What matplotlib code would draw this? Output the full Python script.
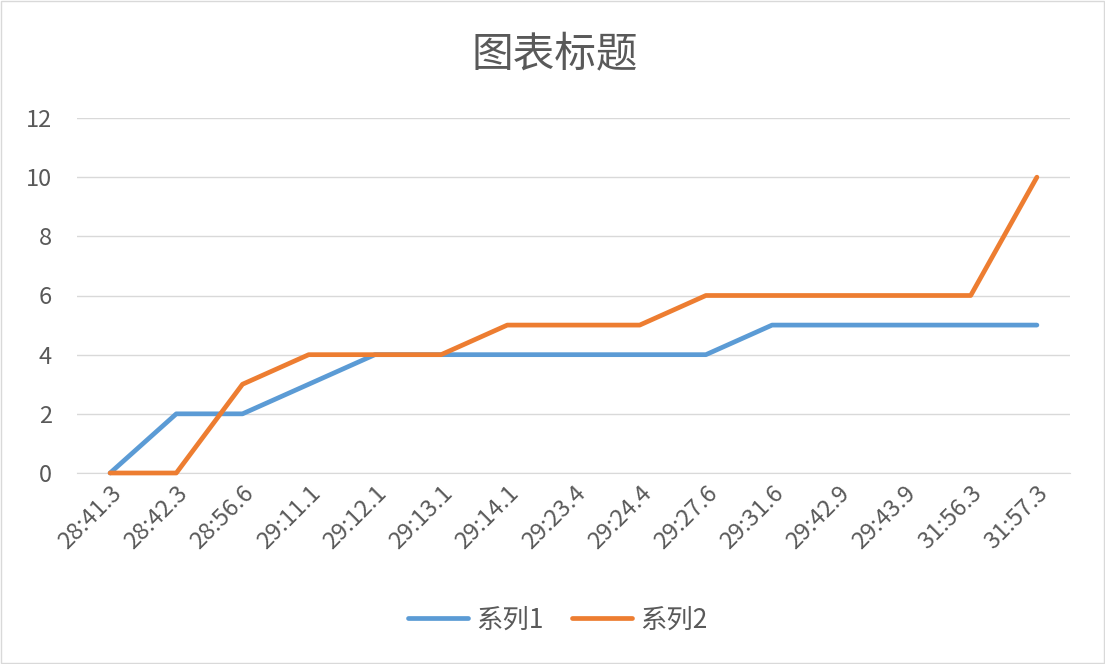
import matplotlib
matplotlib.use("Agg")
import matplotlib.pyplot as plt
from matplotlib.patches import Rectangle
import numpy as np

plt.rcParams['font.family'] = ['Noto Sans CJK SC', 'DejaVu Sans']

categories = ['28:41.3', '28:42.3', '28:56.6', '29:11.1', '29:12.1', '29:13.1',
              '29:14.1', '29:23.4', '29:24.4', '29:27.6', '29:31.6', '29:42.9',
              '29:43.9', '31:56.3', '31:57.3']
series1 = [0, 2, 2, 3, 4, 4, 4, 4, 4, 4, 5, 5, 5, 5, 5]
series2 = [0, 0, 3, 4, 4, 4, 5, 5, 5, 6, 6, 6, 6, 6, 10]
yticks = [0, 2, 4, 6, 8, 10, 12]

text_color = '#595959'
blue = '#5B9BD5'
orange = '#ED7D31'

fig = plt.figure(figsize=(11.05, 6.64), dpi=100)
ax = fig.add_axes([77/1105, 1 - 473/664, (1070 - 77)/1105, (473 - 118)/664])

x = np.arange(len(categories))
ax.plot(x, series1, color=blue, lw=3.4, solid_capstyle='round', label='系列1', clip_on=False, zorder=3)
ax.plot(x, series2, color=orange, lw=3.4, solid_capstyle='round', label='系列2', clip_on=False, zorder=4)

ax.set_xlim(-0.5, len(categories) - 0.5)
ax.set_ylim(0, 12)
ax.set_yticks(yticks)
ax.set_xticks(x)
ax.set_xticklabels(categories, rotation=45, ha='right', rotation_mode='anchor')

ax.grid(axis='y', color='#D9D9D9', lw=1)
ax.set_axisbelow(True)
for side in ['top', 'right', 'left']:
    ax.spines[side].set_visible(False)
ax.spines['bottom'].set_color('#D9D9D9')
ax.tick_params(axis='both', length=0, colors=text_color, labelsize=17)
ax.tick_params(axis='y', pad=18)
ax.tick_params(axis='x', pad=6)

fig.text(0.502, 1 - 55/664, '图表标题', ha='center', va='center', fontsize=30, color=text_color)

ax.legend(loc='center', bbox_to_anchor=(0.484, (473 - 620)/(473 - 118)), ncol=2, frameon=False,
          fontsize=19, labelcolor=text_color, handlelength=2.3, handletextpad=0.3, columnspacing=1.05)

fig.patches.append(Rectangle((0.001, 0.001), 0.998, 0.997, transform=fig.transFigure,
                             fill=False, edgecolor='#D9D9D9', lw=1))

fig.savefig('out.png', dpi=100, facecolor='white')
